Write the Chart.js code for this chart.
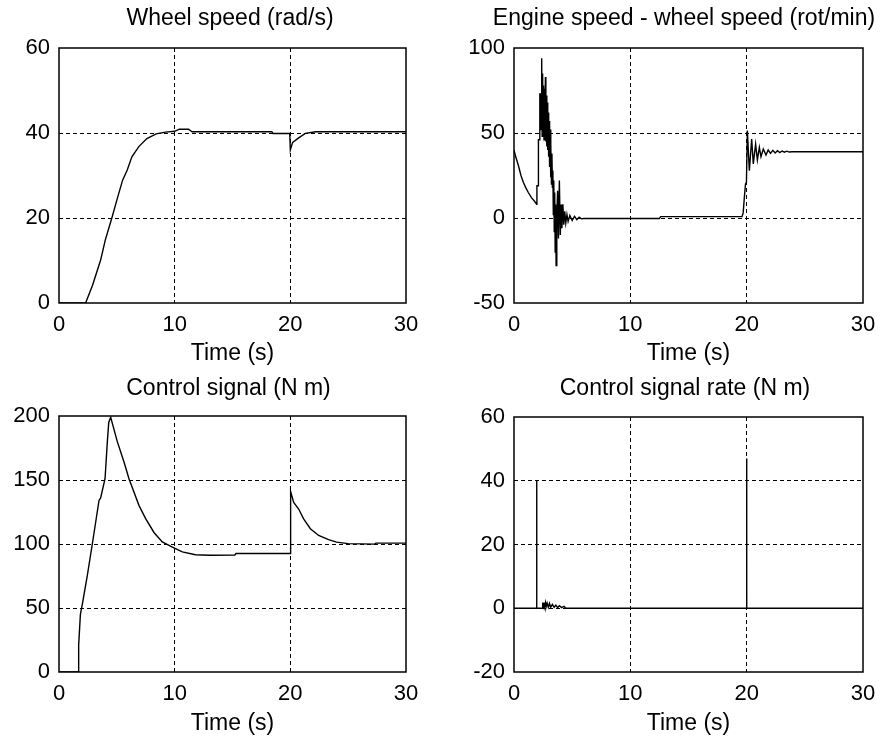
<!DOCTYPE html>
<html>
<head>
<meta charset="utf-8">
<script src="https://cdn.jsdelivr.net/npm/chart.js@4"></script>
<style>
  body { margin: 0; background: #fff; overflow: hidden; }
  #wrap { position: relative; width: 887px; height: 740px; background: #fff; overflow: hidden; }
  canvas { position: absolute; }
</style>
</head>
<body>
<div id="wrap">
  <canvas id="wheel" width="460" height="370" style="left:0;top:0"></canvas>
  <canvas id="engine" width="488" height="370" style="left:440px;top:0"></canvas>
  <canvas id="control" width="457" height="370" style="left:0;top:370px"></canvas>
  <canvas id="rate" width="490" height="370" style="left:440px;top:370px"></canvas>
</div>
<script>
// tick labels
const timeTicks = [0, 10, 20, 30];
const wheelTicks = [0, 20, 40, 60];
const engineTicks = [-50, 0, 50, 100];
const controlTicks = [0, 50, 100, 150, 200];
const rateTicks = [-20, 0, 20, 40, 60];

// wheel speed (rad/s)
const wheelTime  = [0, 2.3, 2.9, 3.6, 4.0, 4.6, 5.0, 5.5, 5.9, 6.3, 6.9, 7.6, 8.4, 9.2, 10.0, 10.4, 11.2, 11.5, 18.4, 18.5, 19.95, 20.0, 20.2, 20.75, 21.3, 22.2, 30];
const wheelSpeed = [0, 0, 4.2, 10.1, 14.8, 20.3, 24.2, 28.9, 31.3, 34.4, 36.8, 38.7, 39.8, 40.2, 40.4, 40.9, 40.9, 40.3, 40.3, 39.9, 39.9, 36.0, 37.8, 38.9, 39.9, 40.3, 40.3];

// engine speed - wheel speed (rot/min)
const engineTime = [0, 0.15, 0.37, 0.6, 0.8, 1.0, 1.23, 1.5, 1.75, 1.95, 1.97, 2.08, 2.1, 2.2, 2.22, 2.32,
  2.34, 2.38, 2.42, 2.46, 2.50, 2.54, 2.58, 2.62, 2.66, 2.70, 2.74, 2.78, 2.82, 2.86, 2.90, 2.94, 2.98,
  3.02, 3.06, 3.10, 3.14, 3.18, 3.22, 3.26, 3.30, 3.34, 3.38, 3.42, 3.46, 3.50, 3.54, 3.58, 3.62, 3.68,
  3.75, 3.82, 3.90, 3.98, 4.05, 4.12, 4.20, 4.28, 4.36, 4.45, 4.55, 4.65, 4.8, 5.0, 5.2, 5.4, 5.6, 5.8, 6.0,
  12.5, 12.6, 19.6, 19.7, 19.8, 19.9, 19.98, 20.06, 20.23, 20.43, 20.57, 20.77, 20.92, 21.09, 21.23, 21.43,
  21.66, 21.85, 22.05, 22.25, 22.45, 22.65, 22.85, 23.05, 23.25, 23.45, 23.65, 23.9, 30];
const engineDiff = [40, 36, 31, 25, 21, 18, 15, 12, 10, 8, 19, 19, 46, 46, 73, 73,
  52, 94, 48, 85, 50, 78, 46, 76, 47, 83, 45, 72, 42, 68, 40, 62, 36,
  57, 30, 52, 24, 44, 20, 38, 18, 28, 2, 22, -8, 15, -20, 8, -28, 2,
  16, -12, 22, -10, 8, -6, 8, -4, 4, -3, 2, -2, 1.5, -1.5, 1, -1, 0.5, -0.5, -0.3,
  -0.3, 0.8, 0.8, 3, 12, 20, 21, 51.4, 27.8, 46.5, 31.8, 43.5, 34.1, 41.6, 36, 40.6,
  37, 40, 38, 39.8, 38.3, 39.6, 38.5, 39.4, 38.7, 39.3, 38.8, 39, 39];

// control signal (N m)
const controlTime = [0, 1.67, 1.7, 1.85, 2.0, 2.45, 2.88, 3.17, 3.46, 3.6, 3.98, 4.18, 4.3, 4.47, 5.04, 5.62, 6.05, 6.48, 6.92, 7.49, 8.21, 8.93, 9.8, 10.66, 11.8, 13.0, 15.2, 15.3, 19.98, 20.0, 20.05, 20.29, 20.72, 21.15, 21.73, 22.45, 23.3, 24.0, 25.0, 27.3, 27.4, 30];
const controlSignal = [0, 0, 21, 45, 52, 75.5, 100, 117, 134, 136, 151, 180, 195, 199, 180, 164, 151, 140.6, 130, 119.8, 109, 101.6, 97.6, 93.8, 91.6, 91.2, 91.4, 92.6, 92.6, 140, 141, 132.5, 127.3, 119.6, 111.9, 106.7, 103.4, 101.5, 100.3, 99.9, 100.7, 100.7];

// control signal rate (N m)
const rateTime = [0, 1.94, 1.95, 1.96, 2.45, 2.47, 2.5, 2.55, 2.6, 2.7, 2.75, 2.85, 2.95, 3.05, 3.15, 3.3, 3.45, 3.6, 3.75, 3.9, 4.1, 4.3, 4.45, 19.99, 20.0, 20.01, 30];
const rateSignal = [0, 0, 40, 0, 0, 1.8, 0.3, 1.8, 0.3, 1.8, 0.2, 1.6, 0.3, 1.5, 0.3, 1.2, 0.3, 1.0, 0.2, 0.8, 0.2, 0.6, 0, 0, 47, 0, 0];

const FONT = "'Liberation Sans', Arial, sans-serif";

function toPoints(t, v) {
  return t.map((x, i) => ({ x: x, y: v[i] }));
}

// solid box round the axes, like matlab
const framePlugin = {
  id: 'frame',
  afterDraw(chart) {
    const a = chart.chartArea;
    const ctx = chart.ctx;
    ctx.save();
    ctx.strokeStyle = '#000';
    ctx.lineWidth = 1.5;
    ctx.strokeRect(Math.round(a.left), Math.round(a.top), Math.round(a.right - a.left), Math.round(a.bottom - a.top));
    ctx.restore();
  }
};

function gridColor(ticks) {
  return c => (c.index === 0 || c.index === ticks.length - 1) ? 'rgba(0,0,0,0)' : '#000';
}

// area = plot box inside the canvas; title is centred on the canvas
function renderPlot(id, title, times, values, yTicks, area) {
  const canvas = document.getElementById(id);
  new Chart(canvas, {
    type: 'line',
    data: {
      datasets: [{
        data: toPoints(times, values),
        yAxisID: 'y',
        borderColor: '#000',
        borderWidth: 1.4,
        pointRadius: 0,
        tension: 0,
        fill: false
      }]
    },
    options: {
      responsive: false,
      animation: false,
      devicePixelRatio: 1,
      layout: { padding: 0 },
      plugins: {
        legend: { display: false },
        tooltip: { enabled: false },
        title: {
          display: true,
          text: title,
          color: '#000',
          fullSize: true,
          font: { family: FONT, size: 23, weight: 'normal' },
          padding: { top: 5, bottom: area.top - 5 - 27.6 }
        }
      },
      scales: {
        x: {
          type: 'linear',
          min: timeTicks[0],
          max: timeTicks[timeTicks.length - 1],
          afterBuildTicks: s => { s.ticks = timeTicks.map(v => ({ value: v })); },
          afterFit: s => { s.height = canvas.height - area.bottom; },
          grid: { color: gridColor(timeTicks), lineWidth: 1, drawTicks: false },
          border: { display: false, dash: [4, 3] },
          ticks: { color: '#000', padding: 9, maxRotation: 0, font: { family: FONT, size: 22 } },
          title: { display: true, text: 'Time (s)', color: '#000', font: { family: FONT, size: 23 }, padding: { top: 0, bottom: 3 } }
        },
        y: {
          min: yTicks[0],
          max: yTicks[yTicks.length - 1],
          afterBuildTicks: s => { s.ticks = yTicks.map(v => ({ value: v })); },
          afterFit: s => { s.width = area.left; },
          grid: { color: gridColor(yTicks), lineWidth: 1, drawTicks: false },
          border: { display: false, dash: [4, 3] },
          ticks: { color: '#000', padding: 9, font: { family: FONT, size: 22 } }
        },
        // empty right axis, only keeps space so the title sits centred
        yr: {
          position: 'right',
          min: yTicks[0],
          max: yTicks[yTicks.length - 1],
          afterFit: s => { s.width = canvas.width - area.right; },
          grid: { display: false, drawOnChartArea: false },
          border: { display: false },
          ticks: { display: false }
        }
      }
    },
    plugins: [framePlugin]
  });
}

renderPlot('wheel', 'Wheel speed (rad/s)', wheelTime, wheelSpeed, wheelTicks, { left: 59, right: 406, top: 48, bottom: 303 });
renderPlot('engine', 'Engine speed - wheel speed (rot/min)', engineTime, engineDiff, engineTicks, { left: 74, right: 423, top: 48, bottom: 303 });
renderPlot('control', 'Control signal (N m)', controlTime, controlSignal, controlTicks, { left: 59, right: 406, top: 46, bottom: 302 });
renderPlot('rate', 'Control signal rate (N m)', rateTime, rateSignal, rateTicks, { left: 74, right: 423, top: 47, bottom: 302 });
</script>
</body>
</html>
